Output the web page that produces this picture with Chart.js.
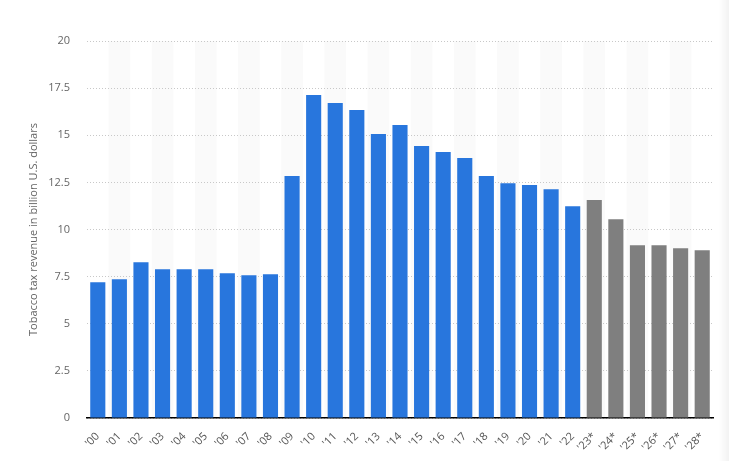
<!DOCTYPE html>
<html>
<head>
<meta charset="utf-8">
<script src="https://cdn.jsdelivr.net/npm/chart.js@4"></script>
<style>
  html, body { margin: 0; padding: 0; background: #fff; }
  #wrap { position: relative; width: 729px; height: 461px; }
  #edge { position: absolute; top: 0; right: 0; width: 10px; height: 461px;
          background: linear-gradient(to right, rgba(0,0,0,0), rgba(0,0,0,0.05)); }
</style>
</head>
<body>
<div id="wrap">
  <canvas id="taxChart" width="729" height="461"></canvas>
  <div id="edge"></div>
</div>
<script>
// ========================
// DATA
// ========================
const years = ["'00", "'01", "'02", "'03", "'04", "'05", "'06", "'07", "'08", "'09",
  "'10", "'11", "'12", "'13", "'14", "'15", "'16", "'17", "'18", "'19",
  "'20", "'21", "'22", "'23*", "'24*", "'25*", "'26*", "'27*", "'28*"];
const revenue = [7.2, 7.36, 8.26, 7.89, 7.89, 7.89, 7.68, 7.57, 7.62, 12.84,
  17.14, 16.71, 16.34, 15.07, 15.55, 14.43, 14.11, 13.79, 12.84, 12.46,
  12.36, 12.14, 11.24, 11.56, 10.55, 9.17, 9.17, 9.01, 8.9];
const forecastFrom = 23; // index of first projected year
const yTicks = [0, 2.5, 5, 7.5, 10, 12.5, 15, 17.5, 20];

const BLUE = '#2876dd';
const GREY = '#7f7f7f';
const FONT = "'Open Sans', sans-serif";

// striped background behind every other column (drawn before grid)
const stripes = {
  id: 'stripes',
  beforeDraw(chart) {
    const { ctx, chartArea, scales } = chart;
    const step = scales.x.getPixelForValue(1) - scales.x.getPixelForValue(0);
    ctx.save();
    ctx.fillStyle = '#fafafa';
    years.forEach((_, i) => {
      if (i % 2 === 1) {
        const cx = scales.x.getPixelForValue(i);
        ctx.fillRect(cx - step / 2, chartArea.top, step, chartArea.bottom - chartArea.top);
      }
    });
    ctx.restore();
  }
};

new Chart(document.getElementById('taxChart').getContext('2d'), {
  type: 'bar',
  data: {
    labels: years,
    datasets: [{
      data: revenue,
      backgroundColor: revenue.map((v, i) => i >= forecastFrom ? GREY : BLUE),
      categoryPercentage: 1,
      barPercentage: 0.7
    }]
  },
  options: {
    responsive: false,
    animation: false,
    layout: { padding: { top: 41, right: 16, bottom: 0, left: 0 } },
    plugins: {
      legend: { display: false },
      tooltip: { enabled: false }
    },
    scales: {
      x: {
        grid: { display: false },
        border: { color: '#000', width: 1.5 },
        ticks: {
          color: '#555',
          font: { family: FONT, size: 11 },
          autoSkip: false,
          minRotation: 45,
          maxRotation: 45,
          padding: 4
        },
        afterFit(scale) { scale.height = 43; }
      },
      y: {
        min: 0,
        max: 20,
        afterBuildTicks(scale) { scale.ticks = yTicks.map(v => ({ value: v })); },
        grid: { color: '#c8c8c8', drawTicks: false },
        border: { display: false, dash: [1, 2] },
        ticks: {
          color: '#666',
          font: { family: FONT, size: 11 },
          padding: 17
        },
        title: {
          display: true,
          text: 'Tobacco tax revenue in billion U.S. dollars',
          color: '#666',
          font: { family: FONT, size: 11 },
          padding: { top: 27, bottom: 0 }
        },
        afterFit(scale) { scale.width = 87; }
      }
    }
  },
  plugins: [stripes]
});
</script>
</body>
</html>
